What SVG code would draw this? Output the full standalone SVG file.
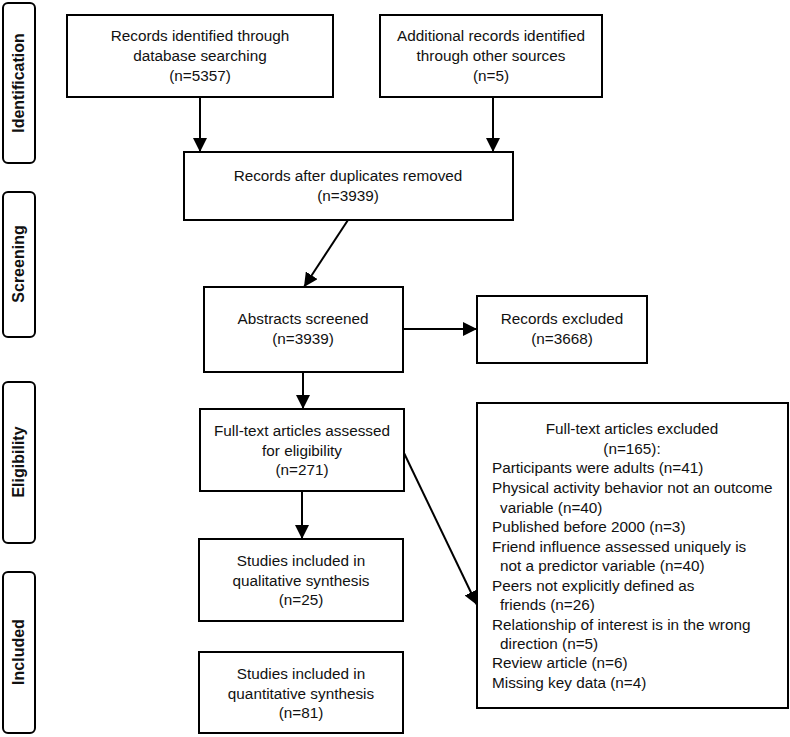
<svg xmlns="http://www.w3.org/2000/svg" width="790" height="737" viewBox="0 0 790 737">
<defs>
<marker id="a2" viewBox="0 0 10 10" refX="10" refY="5" markerWidth="14" markerHeight="14" markerUnits="userSpaceOnUse" orient="auto">
<path d="M0,0 L10,5 L0,10 Z" fill="#000"/>
</marker>
<style>
.box{fill:#fff;stroke:#000;stroke-width:2}
.side{fill:#fff;stroke:#000;stroke-width:2}
text{font-family:"Liberation Sans",Arial,sans-serif;font-size:15.3px;fill:#111}
.c{text-anchor:middle}
.lbl{font-weight:bold;text-anchor:middle;font-size:16px}
.conn line{stroke:#000;stroke-width:2;marker-end:url(#a2)}
</style>
</defs>
<rect width="790" height="737" fill="#fff"/>

<g id="stage-identification"><rect class="side" x="3" y="3" width="32" height="160" rx="5"/><text class="lbl" transform="translate(24,83) rotate(-90)">Identification</text></g>
<g id="stage-screening"><rect class="side" x="3" y="192" width="32" height="145" rx="5"/><text class="lbl" transform="translate(24,264) rotate(-90)">Screening</text></g>
<g id="stage-eligibility"><rect class="side" x="3" y="382" width="32" height="161" rx="5"/><text class="lbl" transform="translate(24,462) rotate(-90)">Eligibility</text></g>
<g id="stage-included"><rect class="side" x="3" y="572" width="32" height="161" rx="5"/><text class="lbl" transform="translate(24,652) rotate(-90)">Included</text></g>

<g id="n-db"><rect class="box" x="67" y="15" width="266" height="82"/>
<text class="c" x="200" y="41">Records identified through</text>
<text class="c" x="200" y="61">database searching</text>
<text class="c" x="200" y="81">(n=5357)</text></g>

<g id="n-other"><rect class="box" x="380" y="15" width="222" height="82"/>
<text class="c" x="491" y="41">Additional records identified</text>
<text class="c" x="491" y="61">through other sources</text>
<text class="c" x="491" y="81">(n=5)</text></g>

<g id="n-dup"><rect class="box" x="184" y="152" width="329" height="68"/>
<text class="c" x="348" y="181">Records after duplicates removed</text>
<text class="c" x="348" y="201">(n=3939)</text></g>

<g id="n-abs"><rect class="box" x="204" y="287" width="199" height="85"/>
<text class="c" x="303" y="324">Abstracts screened</text>
<text class="c" x="303" y="344">(n=3939)</text></g>

<g id="n-recex"><rect class="box" x="477" y="296" width="170" height="67"/>
<text class="c" x="562" y="324">Records excluded</text>
<text class="c" x="562" y="344">(n=3668)</text></g>

<g id="n-full"><rect class="box" x="200" y="409" width="204" height="82"/>
<text class="c" x="302" y="436">Full-text articles assessed</text>
<text class="c" x="302" y="456">for eligibility</text>
<text class="c" x="302" y="475">(n=271)</text></g>

<g id="n-qual"><rect class="box" x="199" y="539" width="204" height="82"/>
<text class="c" x="301" y="566">Studies included in</text>
<text class="c" x="301" y="586">qualitative synthesis</text>
<text class="c" x="301" y="605">(n=25)</text></g>

<g id="n-quant"><rect class="box" x="199" y="652" width="204" height="81"/>
<text class="c" x="301" y="679">Studies included in</text>
<text class="c" x="301" y="699">quantitative synthesis</text>
<text class="c" x="301" y="718">(n=81)</text></g>

<g id="n-fullex"><rect class="box" x="477" y="403" width="311" height="305"/>
<text class="c" x="632" y="434">Full-text articles excluded</text>
<text class="c" x="632" y="454">(n=165):</text>
<text x="492" y="473">Participants were adults (n=41)</text>
<text x="492" y="493">Physical activity behavior not an outcome</text>
<text x="500" y="513">variable (n=40)</text>
<text x="492" y="532">Published before 2000 (n=3)</text>
<text x="492" y="552">Friend influence assessed uniquely is</text>
<text x="500" y="571">not a predictor variable (n=40)</text>
<text x="492" y="591">Peers not explicitly defined as</text>
<text x="500" y="610">friends (n=26)</text>
<text x="492" y="630">Relationship of interest is in the wrong</text>
<text x="500" y="649">direction (n=5)</text>
<text x="492" y="668">Review article (n=6)</text>
<text x="492" y="688">Missing key data (n=4)</text></g>

<g id="connectors" class="conn">
<line x1="200" y1="97" x2="200" y2="152"/>
<line x1="493" y1="97" x2="493" y2="152"/>
<line x1="348" y1="220" x2="304" y2="287"/>
<line x1="403" y1="329" x2="477" y2="329"/>
<line x1="303" y1="372" x2="303" y2="409"/>
<line x1="302" y1="491" x2="302" y2="539"/>
<line x1="404" y1="453" x2="477" y2="605"/>
</g>
</svg>
